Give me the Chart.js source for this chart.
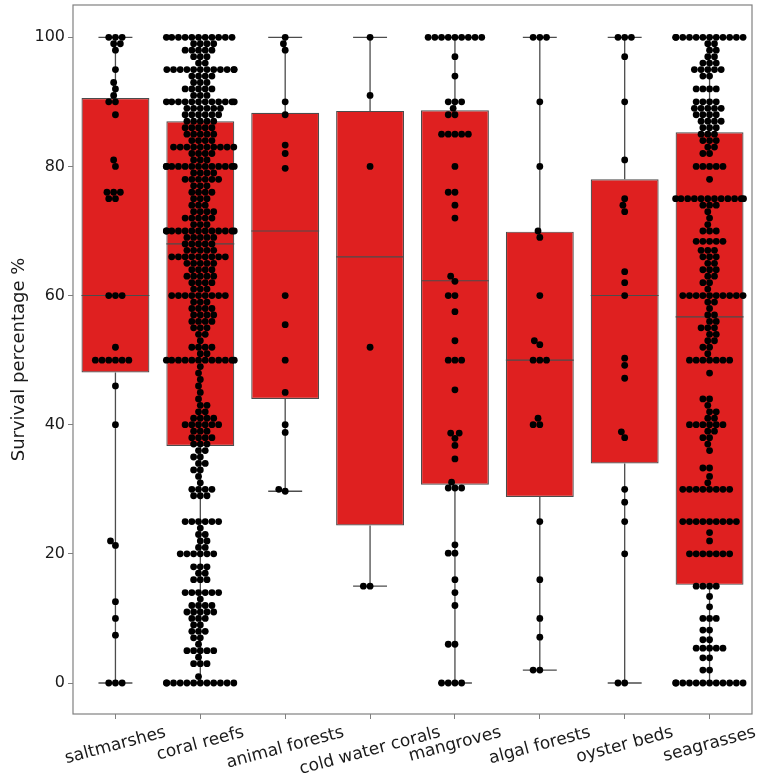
<!DOCTYPE html>
<html>
<head>
<meta charset="utf-8">
<script src="https://cdn.jsdelivr.net/npm/chart.js@4"></script>
<style>
  html, body { margin: 0; padding: 0; background: #fff; }
  #wrap { width: 760px; height: 782px; }
</style>
</head>
<body>
<div id="wrap"><canvas id="surv"></canvas></div>
<script>
const categories = ["saltmarshes", "coral reefs", "animal forests", "cold water corals",
  "mangroves", "algal forests", "oyster beds", "seagrasses"];
const yTicks = [0, 20, 40, 60, 80, 100];

// box statistics
const q1 = [48.1, 36.7, 44.0, 24.4, 30.7, 28.8, 34.0, 15.2];
const medians = [60, 68, 70, 66, 62.3, 50, 60, 56.7];
const q3 = [90.6, 87.0, 88.3, 88.6, 88.7, 69.9, 78.0, 85.3];
const whiskerLow = [0, 0, 29.7, 15, 0, 2, 0, 0];
const whiskerHigh = [100, 100, 100, 100, 100, 100, 100, 100];

// observations as [value, how many dots]
const saltmarshes = [[100,3],[99,2],[98,1],[95,1],[93,1],[92,1],[91,1],[90,2],[88,1],[81,1],[80,1],
  [76,3],[75,2],[60,3],[52,1],[50,6],[46,1],[40,1],[22,1],[21.3,1],[12.6,1],[10,1],[7.4,1],[0,3]];
const coralReefs = [[100,11],[99,4],[98,5],[97,3],[96,2],[95,12],[94,4],[93,3],[92,5],[91,3],[90,12],
  [89,6],[88,6],[87,5],[86,5],[85,5],[84,4],[83,10],[82,4],[81,3],[80,13],[79,4],[78,6],[77,3],[76,4],
  [75,3],[74,3],[73,4],[72,5],[71,3],[70,13],[69,5],[68,5],[67,5],[66,9],[65,5],[64,4],[63,5],[62,4],
  [61,3],[60,9],[59,3],[58,4],[57,4],[56,4],[55,3],[54,2],[53,1],[52,4],[51,2],[50,12],[49,1],[48,1],
  [47,1],[46,1],[45,1],[44,1],[43,2],[42,2],[41,4],[40,6],[39,3],[38,4],[37,3],[36,2],[35,2],[34,2],
  [33,2],[32,1],[31,1],[30,4],[29,3],[25,6],[24,1],[23,2],[22,2],[21,2],[20,6],[18,3],[17,2],[16,3],
  [14,6],[13,1],[12,4],[11,5],[10,3],[9,2],[8,3],[7,2],[6,1],[5,5],[4,1],[3,3],[1,1],[0,12]];
const animalForests = [[100,1],[99,1],[98,1],[90,1],[88,1],[83.3,1],[82,1],[79.7,1],[60,1],[55.5,1],
  [50,1],[45,1],[40,1],[38.8,1],[30,1],[29.7,1]];
const coldWaterCorals = [[100,1],[91,1],[80,1],[52,1],[15,2]];
const mangroves = [[100,9],[97,1],[94,1],[90,3],[89,1],[88,2],[85,5],[80,1],[76,2],[74,1],[72,1],
  [63,1],[62.2,1],[60,2],[57.5,1],[53,1],[50,3],[45.4,1],[38.7,2],[37.9,1],[36.8,1],[34.7,1],[31.1,1],
  [30.2,3],[21.4,1],[20.1,2],[16,1],[14,1],[12,1],[6,2],[0,4]];
const algalForests = [[100,3],[90,1],[80,1],[70,1],[69,1],[60,1],[53,1],[52.4,1],[50,3],[41,1],[40,2],
  [25,1],[16,1],[10,1],[7.1,1],[2,2]];
const oysterBeds = [[100,3],[97,1],[90,1],[81,1],[75,1],[74,1],[73,1],[63.7,1],[62,1],[60,1],[50.3,1],
  [49.2,1],[47.2,1],[38.9,1],[38,1],[30,1],[28,1],[25,1],[20,1],[0,2]];
const seagrasses = [[100,12],[99,2],[98,2],[97,2],[96,3],[95,5],[94,2],[92,4],[90,4],[89,5],[88,4],
  [87,4],[86,3],[85,3],[84,3],[83,2],[82,2],[80,5],[78,1],[75,12],[74,3],[73,1],[72,1],[71,1],[70,3],
  [68.4,5],[67,3],[66,3],[65,2],[64,3],[63,2],[62,2],[61,1],[60,10],[59,2],[58,1],[57,2],[56,2],[55,3],
  [54,2],[53,2],[52,2],[51,1],[50,7],[48,1],[44,2],[43,1],[42,2],[41,2],[40,6],[39,2],[38,2],[37,1],
  [36,1],[33.3,2],[32,1],[31,1],[30,8],[25,9],[23.3,1],[22,1],[20,7],[15,4],[13.4,1],[11.8,1],[10,3],
  [8.2,2],[6.7,2],[5.4,5],[3.9,2],[2,2],[0,12]];

const groups = [saltmarshes, coralReefs, animalForests, coldWaterCorals, mangroves, algalForests, oysterBeds, seagrasses];

const FONT = "'DejaVu Sans', 'Liberation Sans', sans-serif";
const BOX_RED = "#df2020";
const GRAY = "#4c4c4c";
const FRAME = "#808080";
const DOT_R = 3.4;
const DOT_GAP = 6.7;

// plain list of points, x still at the category centre
function basePoints() {
  const pts = [];
  groups.forEach((g, i) => g.forEach(([v, n]) => {
    for (let k = 0; k < n; k++) pts.push({ x: i, y: v, cat: i });
  }));
  return pts;
}

// seaborn-like beeswarm in pixel space
function swarm(ys, halfWidth) {
  const order = ys.map((y, i) => i).sort((a, b) => ys[b] - ys[a]);
  const placed = [];
  const out = new Array(ys.length);
  order.forEach(i => {
    const y = ys[i];
    const nb = placed.filter(p => Math.abs(p.y - y) < DOT_GAP);
    const cands = [0];
    nb.forEach(p => {
      const dy = y - p.y;
      const dx = Math.sqrt(Math.max(DOT_GAP * DOT_GAP - dy * dy, 0));
      cands.push(p.x - dx, p.x + dx);
    });
    cands.sort((a, b) => Math.abs(a) - Math.abs(b));
    let x = cands.find(c => nb.every(p => (c - p.x) ** 2 + (y - p.y) ** 2 >= DOT_GAP * DOT_GAP - 1e-6));
    if (x === undefined) x = 0;
    placed.push({ x, y });
    out[i] = Math.max(-halfWidth, Math.min(halfWidth, x));
  });
  return out;
}

const boxPlugin = {
  id: "boxParts",
  afterDatasetDraw(chart, args) {
    if (args.index !== 0) return;
    const { ctx, scales: { x, y } } = chart;
    const meta = chart.getDatasetMeta(0);
    ctx.save();
    ctx.strokeStyle = GRAY;
    categories.forEach((c, i) => {
      const cx = x.getPixelForValue(i);
      const bw = meta.data[i].width;
      const cap = bw / 4;
      ctx.lineWidth = 1.3;
      ctx.beginPath();
      ctx.moveTo(cx, y.getPixelForValue(q3[i]));
      ctx.lineTo(cx, y.getPixelForValue(whiskerHigh[i]));
      ctx.moveTo(cx, y.getPixelForValue(q1[i]));
      ctx.lineTo(cx, y.getPixelForValue(whiskerLow[i]));
      ctx.moveTo(cx - cap, y.getPixelForValue(whiskerHigh[i]));
      ctx.lineTo(cx + cap, y.getPixelForValue(whiskerHigh[i]));
      ctx.moveTo(cx - cap, y.getPixelForValue(whiskerLow[i]));
      ctx.lineTo(cx + cap, y.getPixelForValue(whiskerLow[i]));
      ctx.stroke();
      ctx.lineWidth = 1.1;
      ctx.beginPath();
      ctx.moveTo(cx - bw / 2, y.getPixelForValue(medians[i]));
      ctx.lineTo(cx + bw / 2, y.getPixelForValue(medians[i]));
      ctx.stroke();
    });
    ctx.restore();
  },
  afterDraw(chart) {
    const { ctx, chartArea: a, scales: { x } } = chart;
    ctx.save();
    ctx.strokeStyle = FRAME;
    ctx.lineWidth = 1.2;
    ctx.strokeRect(a.left, a.top, a.right - a.left, a.bottom - a.top);
    // rotated category labels, centred under their ticks
    ctx.font = "17px " + FONT;
    ctx.fillStyle = "#1a1a1a";
    ctx.textAlign = "center";
    ctx.textBaseline = "middle";
    const rot = 15 * Math.PI / 180;
    categories.forEach((c, i) => {
      const w = ctx.measureText(c).width;
      const h = 19;
      const H = w * Math.sin(rot) + h * Math.cos(rot);
      const cx = x.getPixelForValue(i);
      const cy = a.bottom + 9 + H / 2;
      ctx.save();
      ctx.translate(cx, cy);
      ctx.rotate(-rot);
      ctx.fillText(c, 0, 0);
      ctx.restore();
    });
    ctx.restore();
  }
};

const pts = basePoints();

const chart = new Chart(document.getElementById("surv"), {
  type: "bar",
  data: {
    labels: categories,
    datasets: [
      {
        data: q1.map((v, i) => [v, q3[i]]),
        backgroundColor: BOX_RED,
        borderColor: GRAY,
        borderWidth: 1.2,
        borderSkipped: false,
        grouped: false,
        barPercentage: 0.8,
        categoryPercentage: 1,
        order: 2
      },
      {
        type: "scatter",
        xAxisID: "xs",
        data: pts,
        pointRadius: DOT_R,
        pointHoverRadius: DOT_R,
        backgroundColor: "#000",
        borderWidth: 0,
        order: 1
      }
    ]
  },
  options: {
    responsive: true,
    maintainAspectRatio: false,
    animation: false,
    layout: { padding: { top: 5, right: 8, left: 0, bottom: 0 } },
    plugins: { legend: { display: false }, tooltip: { enabled: false } },
    scales: {
      x: {
        offset: true,
        grid: { display: true, drawOnChartArea: false, offset: false, tickLength: 5, color: FRAME },
        border: { display: false },
        ticks: { display: false },
        afterFit: ax => { ax.height = 68; ax.paddingLeft = 0; ax.paddingRight = 0; }
      },
      xs: { type: "linear", display: false, offset: false, min: -0.5, max: 7.5 },
      y: {
        min: -4.8,
        max: 105,
        grid: { display: true, drawOnChartArea: false, tickLength: 5, color: FRAME },
        border: { display: false },
        afterBuildTicks: ax => { ax.ticks = yTicks.map(v => ({ value: v })); },
        ticks: { color: "#1a1a1a", padding: 3, font: { family: FONT, size: 16 } },
        title: {
          display: true,
          text: "Survival percentage %",
          color: "#1a1a1a",
          font: { family: FONT, size: 18 },
          padding: { top: 9, bottom: 0 }
        },
        afterFit: ax => { ax.width = 73; ax.paddingTop = 0; ax.paddingBottom = 0; }
      }
    }
  },
  plugins: [boxPlugin]
});

// lay the dots out as a swarm once the scales know their pixel sizes
const yScale = chart.scales.y;
const unitPx = chart.chartArea.width / categories.length;
categories.forEach((c, i) => {
  const mine = pts.filter(p => p.cat === i);
  const offs = swarm(mine.map(p => yScale.getPixelForValue(p.y)), 0.4 * unitPx);
  mine.forEach((p, k) => { p.x = i + offs[k] / unitPx; });
});
chart.update("none");
</script>
</body>
</html>
